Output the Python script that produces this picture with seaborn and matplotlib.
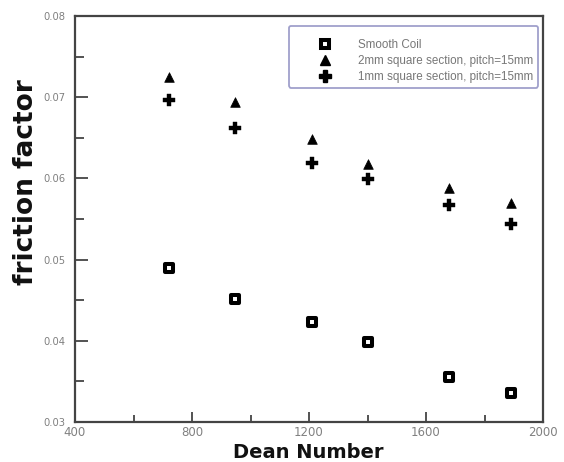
import numpy as np
import pandas as pd
import matplotlib
matplotlib.use("Agg")
import matplotlib.pyplot as plt
import seaborn as sns
from matplotlib.ticker import MultipleLocator
from matplotlib.lines import Line2D

# ---- data ----
dean = [720, 947, 1209, 1400, 1679, 1891]
smooth_coil = [0.0490, 0.0452, 0.0423, 0.0399, 0.0356, 0.0336]
sq2mm = [0.0725, 0.0694, 0.0648, 0.0618, 0.0588, 0.0570]
sq1mm = [0.0697, 0.0662, 0.0619, 0.0599, 0.0567, 0.0544]
labels = ["Smooth Coil", "2mm square section, pitch=15mm", "1mm square section, pitch=15mm"]
x_ticks = [400, 800, 1200, 1600, 2000]
y_ticks = [0.03, 0.04, 0.05, 0.06, 0.07, 0.08]

sns.set_theme(style="white")
plt.rcParams['font.family'] = ['Liberation Sans', 'DejaVu Sans']

fig = plt.figure(figsize=(5.64, 4.62), dpi=100)
ax = fig.add_axes([75/564, 1-422/462, 468/564, 406/462])

df = pd.DataFrame({"dean": dean * 3,
                   "f": smooth_coil + sq2mm + sq1mm,
                   "series": [labels[0]]*6 + [labels[1]]*6 + [labels[2]]*6})

d0 = df[df.series == labels[0]]
d1 = df[df.series == labels[1]]
d2 = df[df.series == labels[2]]
sns.scatterplot(data=d0, x="dean", y="f", marker="s", s=33, facecolor="white",
                edgecolor="black", linewidth=2.9, ax=ax, zorder=3)
sns.scatterplot(data=d1, x="dean", y="f", marker="^", s=48, color="black",
                edgecolor="black", linewidth=0.5, ax=ax, zorder=3)
sns.scatterplot(data=d2, x="dean", y="f", marker="P", s=80, color="black",
                edgecolor="black", linewidth=0.3, ax=ax, zorder=3)

ax.set_xlim(400, 2000)
ax.set_ylim(0.03, 0.08)
ax.set_xticks(x_ticks)
ax.set_yticks(y_ticks)
ax.set_xticklabels([str(v) for v in x_ticks], fontfamily="DejaVu Sans")
ax.set_yticklabels([f"{v:.2f}" for v in y_ticks], fontfamily="DejaVu Sans")
ax.xaxis.set_minor_locator(MultipleLocator(200))
ax.yaxis.set_minor_locator(MultipleLocator(0.005))
ax.tick_params(axis="x", which="major", direction="in", length=7.5, width=1.3,
               color="#444444", labelsize=8.5, labelcolor="#808080", pad=3)
ax.tick_params(axis="x", which="minor", direction="in", length=5, width=1.3,
               color="#444444")
ax.tick_params(axis="y", which="major", direction="in", length=9.5, width=1.3,
               color="#444444", labelsize=7.2, labelcolor="#808080", pad=7)
ax.tick_params(axis="y", which="minor", direction="in", length=6.5, width=1.3,
               color="#444444")
ax.tick_params(bottom=True, left=True, which="both")
for sp in ax.spines.values():
    sp.set_visible(True)
    sp.set_color("#444444")
    sp.set_linewidth(1.6)
ax.set_xlabel("")
ax.set_ylabel("")
ax.grid(False)

fig.text(308/564, 1-453/462, "Dean Number", ha="center", va="center",
         fontsize=14, fontweight="bold", color="#111111", fontfamily="DejaVu Sans")
fig.text(26/564, 1-182/462, "friction factor", ha="center", va="center",
         rotation=90, fontsize=19, fontweight="bold", color="#111111",
         fontfamily="DejaVu Sans")

handles = [
    Line2D([], [], linestyle="none", marker="s", markersize=5.75, markerfacecolor="white",
           markeredgecolor="black", markeredgewidth=2.9),
    Line2D([], [], linestyle="none", marker="^", markersize=7, color="black"),
    Line2D([], [], linestyle="none", marker="P", markersize=9, color="black"),
]
leg = ax.legend(handles, labels, loc="upper right", bbox_to_anchor=(0.989, 0.975),
                fontsize=8.4, frameon=True, fancybox=True, handlelength=5.4,
                handletextpad=0.15, borderpad=0.4, labelspacing=0.35,
                borderaxespad=0, title=" ", title_fontsize=2)
for t in leg.get_texts():
    t.set_color("#777777")
frame = leg.get_frame()
frame.set_edgecolor("#a0a0cc")
frame.set_linewidth(1.3)
frame.set_facecolor("white")
frame.set_alpha(1)

fig.savefig("out.png", dpi=100)
